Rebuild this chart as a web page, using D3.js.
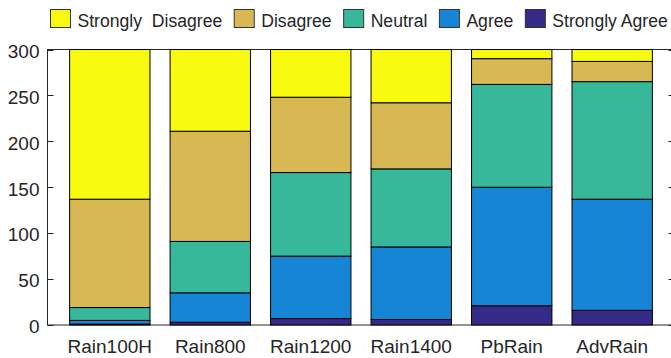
<!DOCTYPE html>
<html>
<head>
<meta charset="utf-8">
<script src="https://cdn.jsdelivr.net/npm/d3@7"></script>
<style>
  html, body { margin: 0; padding: 0; background: #fff; }
  text { font-family: "Liberation Sans", Arial, Helvetica, sans-serif; fill: #262626; }
</style>
</head>
<body>
<svg id="chart" width="671" height="358"></svg>
<script>
const categories = ["Rain100H", "Rain800", "Rain1200", "Rain1400", "PbRain", "AdvRain"];
const seriesNames = ["Strongly  Disagree", "Disagree", "Neutral", "Agree", "Strongly Agree"];
// stacking order bottom -> top
const stronglyAgree    = [1, 3, 7, 6, 21, 16];
const agree            = [4, 32, 68, 79, 129, 121];
const neutral          = [14, 56, 91, 85, 112, 128];
const disagree         = [118, 120, 82, 72, 28, 22];
const stronglyDisagree = [163, 89, 52, 58, 10, 13];
const yTicks = [0, 50, 100, 150, 200, 250, 300];
const colors = {
  "Strongly  Disagree": "#f7f90f",
  "Disagree": "#d8b853",
  "Neutral": "#37b89b",
  "Agree": "#1785d6",
  "Strongly Agree": "#352a87"
};

const svg = d3.select("#chart");
const pLeft = 47.5, pRight = 674.5, pTop = 49.5, pBottom = 325;

const x = d3.scaleBand().domain(categories).range([pLeft, pRight])
  .paddingInner(0.2).paddingOuter(0.22);
const y = d3.scaleLinear().domain([0, 300]).range([pBottom, pTop]);

const rows = categories.map((c, i) => ({
  cat: c,
  "Strongly Agree": stronglyAgree[i],
  "Agree": agree[i],
  "Neutral": neutral[i],
  "Disagree": disagree[i],
  "Strongly  Disagree": stronglyDisagree[i]
}));
const stackKeys = ["Strongly Agree", "Agree", "Neutral", "Disagree", "Strongly  Disagree"];
const stacked = d3.stack().keys(stackKeys)(rows);

// axes (under bars)
const axisColor = "#262626";
const g = svg.append("g");
g.selectAll(".lt").data(yTicks).enter().append("line")
  .attr("x1", pLeft).attr("x2", pLeft + 6)
  .attr("y1", d => Math.round(y(d)) + 0.5).attr("y2", d => Math.round(y(d)) + 0.5)
  .attr("stroke", axisColor);
g.selectAll(".rt").data(yTicks).enter().append("line")
  .attr("x1", pRight - 6).attr("x2", pRight)
  .attr("y1", d => Math.round(y(d)) + 0.5).attr("y2", d => Math.round(y(d)) + 0.5)
  .attr("stroke", axisColor);
g.append("rect").attr("x", pLeft).attr("y", pTop)
  .attr("width", pRight - pLeft).attr("height", pBottom - pTop)
  .attr("fill", "none").attr("stroke", axisColor).attr("stroke-width", 1);

// bars
svg.append("g").selectAll("g").data(stacked).enter().append("g")
  .attr("fill", d => colors[d.key])
  .selectAll("rect").data(d => d).enter().append("rect")
  .attr("x", d => x(d.data.cat))
  .attr("width", x.bandwidth())
  .attr("y", d => y(d[1]))
  .attr("height", d => y(d[0]) - y(d[1]))
  .attr("stroke", "#000").attr("stroke-width", 1);

// y labels
svg.append("g").selectAll("text").data(yTicks).enter().append("text")
  .attr("x", 39.5).attr("y", d => y(d) + 8.3)
  .attr("text-anchor", "end").attr("font-size", "19px")
  .text(d => d);

// x labels
svg.append("g").selectAll("text").data(categories).enter().append("text")
  .attr("x", d => x(d) + x.bandwidth() / 2).attr("y", 353.3)
  .attr("text-anchor", "middle").attr("font-size", "19px")
  .text(d => d);

// legend
const lg = svg.append("g");
let lx = 50.5;
seriesNames.forEach(name => {
  lg.append("rect").attr("x", lx).attr("y", 9.5).attr("width", 20).attr("height", 18)
    .attr("fill", colors[name]).attr("stroke", "#333").attr("stroke-width", 1);
  const t = lg.append("text").attr("x", lx + 27).attr("y", 26.7)
    .attr("font-size", "17.6px").style("white-space", "pre").text(name);
  lx = lx + 27 + t.node().getComputedTextLength() + 12;
});
</script>
</body>
</html>
